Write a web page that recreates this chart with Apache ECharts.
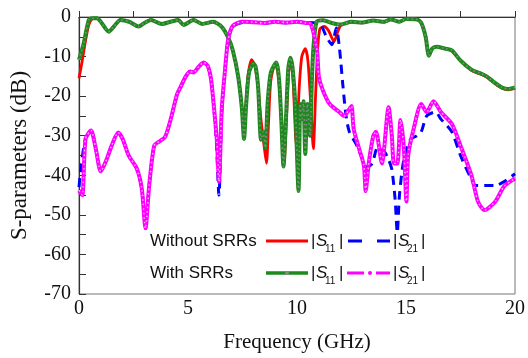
<!DOCTYPE html>
<html><head><meta charset="utf-8">
<script src="https://cdn.jsdelivr.net/npm/echarts@6/dist/echarts.min.js"></script>
<style>html,body{margin:0;padding:0;background:#fff}#c{width:528px;height:358px}</style>
</head><body><div id="c"></div>
<script>
// Frequency in GHz, S-parameters in dB
const xTicks = [0, 5, 10, 15, 20];
const yTicks = [0, -10, -20, -30, -40, -50, -60, -70];

const s11Without = [[0,-15.5],[0.15,-11],[0.3,-6],[0.45,-2],[0.6,-0.5],[0.83,-0.3],[1.0,-1.2],[1.37,-3.7],[1.6,-2.4],[1.9,-0.75],[2.3,-1.2],[2.73,-2.4],[3.0,-1.5],[3.3,-0.75],[3.8,-1.75],[4.2,-1.2],[4.55,-0.75],[4.8,-2],[5.25,-0.75],[5.65,-1.75],[6.15,-1.2],[6.55,-2.5],[6.85,-5.3],[7.06,-8.5],[7.3,-15],[7.47,-23],[7.56,-30],[7.65,-23],[7.75,-15],[7.92,-10.8],[8.05,-12],[8.2,-17],[8.35,-26],[8.5,-33],[8.6,-37],[8.7,-26],[8.8,-16],[9.0,-11.8],[9.15,-15],[9.28,-26],[9.4,-37.5],[9.52,-25],[9.62,-14],[9.72,-11],[9.82,-16],[9.97,-32.5],[10.1,-18],[10.22,-10],[10.38,-8],[10.5,-11],[10.62,-21],[10.75,-33.3],[10.85,-20],[10.95,-8],[11.05,-3],[11.25,-2.4],[11.45,-3.5],[11.7,-6.2],[11.85,-4],[12.0,-2.2],[12.3,-1.5],[12.7,-1.3],[13.0,-1.5],[13.5,-0.9],[14.0,-1.3],[14.3,-0.7],[14.7,-1.2],[15.0,-0.6],[15.5,-0.7],[15.7,-1.5],[15.9,-5],[16.05,-9.5],[16.2,-8],[16.4,-7.5],[16.8,-8],[17.1,-8.6],[17.5,-11],[18.0,-13.5],[18.4,-14.4],[18.7,-15.2],[19.0,-16.5],[19.4,-18],[19.7,-18.4],[20,-18]];

const s21Without = [[0,-43],[0.1,-37.5],[0.3,-30.8],[0.55,-28.7],[0.77,-33.3],[1.0,-39],[1.23,-36.5],[1.5,-32.5],[1.8,-29.2],[2.0,-30.8],[2.28,-35],[2.65,-38.3],[2.88,-43.4],[3.05,-53],[3.22,-42.6],[3.45,-32.5],[3.7,-31.4],[3.95,-30.3],[4.2,-26],[4.5,-19.5],[4.65,-17.8],[4.9,-15],[5.1,-13.8],[5.25,-14],[5.5,-12.5],[5.72,-11.5],[5.9,-12.3],[6.05,-15.5],[6.17,-21.6],[6.3,-31.6],[6.42,-45],[6.55,-24],[6.7,-13.3],[6.84,-5.8],[7.06,-2.4],[7.5,-1.4],[8.0,-1.3],[8.5,-1.6],[9.0,-1.3],[9.5,-1.5],[10.0,-1.2],[10.5,-1.4],[10.9,-1.5],[11.1,-2],[11.35,-5],[11.6,-7],[11.8,-2.8],[11.95,-8],[12.1,-17],[12.25,-25],[12.4,-29],[12.7,-32],[12.94,-35],[13.2,-38],[13.45,-37],[13.7,-33],[14.0,-34],[14.2,-36],[14.35,-38.5],[14.5,-46],[14.6,-54.5],[14.7,-45],[14.9,-36],[15.2,-31],[15.5,-30],[15.7,-29],[15.95,-25],[16.35,-24],[16.6,-25.8],[17.1,-29],[17.5,-35],[17.95,-40.4],[18.2,-42.6],[18.6,-42.6],[19.1,-42.6],[19.5,-41.6],[20,-39.6]];

const s11With = [[0,-10.8],[0.2,-7],[0.45,-0.75],[0.6,-0.3],[0.83,-0.3],[1.0,-1.2],[1.37,-3.7],[1.6,-2.4],[1.9,-0.75],[2.3,-1.2],[2.73,-2.4],[3.0,-1.5],[3.3,-0.75],[3.8,-1.75],[4.2,-1.2],[4.55,-0.75],[4.8,-2],[5.25,-0.75],[5.65,-1.75],[6.15,-1.2],[6.55,-2.5],[6.85,-5.3],[7.06,-8.5],[7.3,-15],[7.47,-23],[7.57,-30.8],[7.67,-22],[7.8,-14],[8.0,-11.8],[8.1,-12.5],[8.22,-18],[8.35,-31],[8.45,-29],[8.55,-33],[8.65,-22],[8.8,-14],[9.05,-11.5],[9.18,-16],[9.28,-26],[9.38,-37.8],[9.5,-25],[9.6,-13],[9.7,-10.3],[9.8,-13],[9.92,-22],[10.07,-44],[10.15,-22],[10.22,-25.8],[10.3,-21.3],[10.38,-34.6],[10.48,-22],[10.6,-30],[10.68,-16.5],[10.75,-8],[10.9,-1.2],[11.2,-0.8],[11.6,-1.5],[12.0,-1.9],[12.5,-1.2],[13.0,-1.4],[13.5,-0.9],[14.0,-1.2],[14.3,-0.6],[14.7,-1.2],[15.0,-0.5],[15.5,-0.6],[15.7,-1.5],[15.9,-5],[16.05,-9.8],[16.2,-8],[16.4,-7.5],[16.8,-8],[17.1,-8.4],[17.5,-11],[18.0,-13.3],[18.4,-14.2],[18.7,-15],[19.0,-16.3],[19.4,-17.8],[19.7,-18.2],[20,-17.8]];

const s21With = [[0,-43.8],[0.15,-45],[0.3,-30.8],[0.55,-28.7],[0.77,-33.3],[1.0,-39],[1.23,-36.5],[1.5,-32.5],[1.8,-29.2],[2.0,-30.8],[2.28,-35],[2.65,-38.3],[2.88,-43.4],[3.05,-53.4],[3.22,-42.6],[3.45,-32.5],[3.7,-31.4],[3.95,-30.3],[4.2,-26],[4.5,-19.5],[4.65,-17.8],[4.9,-15],[5.1,-13.8],[5.25,-14],[5.5,-12.5],[5.72,-11.5],[5.9,-12.3],[6.05,-15.5],[6.17,-21.6],[6.33,-31.6],[6.42,-41.6],[6.55,-23],[6.7,-13.3],[6.84,-5.8],[7.06,-2.2],[7.5,-1.2],[8.0,-1.3],[8.5,-1.5],[9.0,-1.2],[9.5,-1.4],[10.0,-1.2],[10.4,-1.5],[10.6,-1.6],[10.78,-4.5],[10.93,-9],[11.0,-15],[11.17,-18.3],[11.5,-22],[11.94,-24],[12.16,-25],[12.4,-23.3],[12.5,-22.5],[12.6,-28.3],[12.85,-33.3],[13.07,-37.6],[13.15,-44],[13.3,-36.6],[13.5,-30],[13.62,-29],[13.9,-37],[14.0,-33],[14.2,-22.8],[14.35,-30],[14.45,-37],[14.6,-37],[14.75,-26],[14.9,-33],[15.02,-46.6],[15.1,-35],[15.35,-28.3],[15.7,-22],[15.95,-24],[16.26,-21.3],[16.6,-24],[17.1,-27],[17.5,-32.5],[18.0,-40],[18.3,-46.6],[18.6,-48.8],[19.1,-46.6],[19.5,-42.8],[20,-40.8]];

const rowLabels = ['Without SRRs', 'With SRRs'];

const chart = echarts.init(document.getElementById('c'), null, {renderer: 'canvas'});
const serif = '"Liberation Serif","Times New Roman",serif';
const sans = '"Liberation Sans",Arial,sans-serif';
const axisCol = '#333';

function lineSeries(data, color, width, type, z) {
  return {type: 'line', data: data, showSymbol: false, smooth: 0.25, z: z,
    lineStyle: {color: color, width: width, type: type}, silent: true, animation: false};
}

const G = [];
function txt(x, y, s, opt) {
  G.push(Object.assign({type: 'text', x: x, y: y, style: Object.assign({text: s, fill: '#111', font: '17px ' + sans, textVerticalAlign: 'middle'}, opt || {})}));
}
function ln(x1, y1, x2, y2, color, w) {
  G.push({type: 'line', shape: {x1: x1, y1: y1, x2: x2, y2: y2}, style: {stroke: color, lineWidth: w}});
}
function sParam(x, y, sub) {
  txt(x, y, '|');
  txt(x + 5, y, 'S', {font: 'italic 17px ' + sans});
  txt(x + 14, y + 8, sub, {font: '10px ' + sans});
  txt(x + 28, y, '|');
}
const r1 = 241, r2 = 273;
txt(150, r1, rowLabels[0]);
txt(150, r2, rowLabels[1]);
ln(266, r1, 308, r1, '#ff0000', 3);
sParam(311, r1, '11');
ln(348, r1, 362, r1, '#0000ff', 3);
ln(377, r1, 390, r1, '#0000ff', 3);
sParam(393, r1, '21');
ln(266, r2, 308, r2, '#1c8a1c', 3.5);
G.push({type: 'circle', shape: {cx: 287, cy: r2, r: 2}, style: {fill: '#8a8a8a'}});
sParam(311, r2, '11');
ln(347, r2, 364, r2, '#ff00ff', 3);
G.push({type: 'circle', shape: {cx: 370, cy: r2, r: 2}, style: {fill: '#ff00ff'}});
ln(376, r2, 390, r2, '#ff00ff', 3);
sParam(393, r2, '21');

chart.setOption({
  animation: false,
  backgroundColor: '#fff',
  grid: {left: 78, right: 11, top: 17, bottom: 62, show: true, borderColor: '#777', borderWidth: 1},
  xAxis: {
    type: 'value', min: 0, max: 20, interval: 2.5,
    name: 'Frequency (GHz)', nameLocation: 'middle', nameGap: 38,
    nameTextStyle: {fontFamily: serif, fontSize: 21, color: '#111'},
    axisLine: {show: true, lineStyle: {color: axisCol, width: 1.2}},
    axisTick: {show: true, inside: true, length: 6, lineStyle: {color: axisCol}},
    axisLabel: {fontFamily: serif, fontSize: 20, color: '#111', margin: 5,
      formatter: v => (xTicks.indexOf(v) >= 0 ? String(v) : '')},
    splitLine: {show: false}
  },
  yAxis: {
    type: 'value', min: -70, max: 0, interval: 5,
    name: 'S-parameters (dB)', nameLocation: 'middle', nameGap: 48,
    nameTextStyle: {fontFamily: serif, fontSize: 23, color: '#111'},
    axisLine: {show: true, lineStyle: {color: axisCol, width: 1.2}},
    axisTick: {show: true, inside: true, length: 7, lineStyle: {color: axisCol}},
    axisLabel: {fontFamily: serif, fontSize: 20, color: '#111', margin: 8,
      formatter: v => (yTicks.indexOf(v) >= 0 ? String(v) : '')},
    splitLine: {show: false}
  },
  series: [
    lineSeries(s11Without, '#ff0000', 2.8, 'solid', 2),
    lineSeries(s21Without, '#0000ff', 3, [9, 6], 3),
    lineSeries(s11With, '#1c8a1c', 4, 'solid', 4),
    lineSeries(s11With, '#8a8a8a', 1.6, [1.5, 3], 5),
    lineSeries(s21With, '#ff00ff', 4, 'solid', 6),
    lineSeries(s21With, '#ffb3ff', 1.4, [1.5, 3], 7)
  ],
  graphic: G
});
</script></body></html>
